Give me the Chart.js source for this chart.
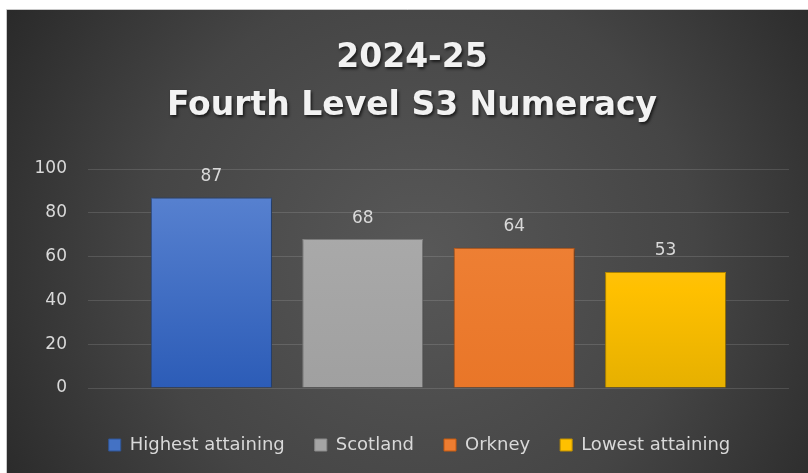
<!DOCTYPE html>
<html>
<head>
<meta charset="utf-8">
<script src="https://cdn.jsdelivr.net/npm/chart.js@4/dist/chart.umd.min.js"></script>
<style>
  html, body { margin: 0; padding: 0; background: #ffffff; }
  #wrap { position: relative; width: 808px; height: 473px; }
</style>
</head>
<body>
<div id="wrap"><canvas id="c" width="808" height="473"></canvas></div>
<script>
const titleLines = ['2024-25', 'Fourth Level S3 Numeracy'];
const categories = [''];
const seriesNames = ['Highest attaining', 'Scotland', 'Orkney', 'Lowest attaining'];
const seriesValues = [87, 68, 64, 53];
const yTicks = [0, 20, 40, 60, 80, 100];

const seriesColors = [
  { top: '#5d86d3', bottom: '#2c5cb7', border: '#2f5597', legend: '#4472c4' },
  { top: '#adadad', bottom: '#a0a0a0', border: '#8a8a8a', legend: '#a5a5a5' },
  { top: '#f0843a', bottom: '#e97628', border: '#c55a11', legend: '#ed7d31' },
  { top: '#ffc843', bottom: '#e6b000', border: '#bf9000', legend: '#ffc000' }
];

function barGradient(ctx, i) {
  const area = ctx.chart.chartArea;
  if (!area) return seriesColors[i].legend;
  const g = ctx.chart.ctx.createLinearGradient(0, area.top, 0, area.bottom);
  const c = seriesColors[i];
  if (i === 3) {
    g.addColorStop(0, c.top);
    g.addColorStop(0.55, '#ffc000');
    g.addColorStop(1, c.bottom);
  } else {
    g.addColorStop(0, c.top);
    g.addColorStop(1, c.bottom);
  }
  return g;
}

const bgPlugin = {
  id: 'bg',
  beforeDraw(chart) {
    const ctx = chart.ctx;
    ctx.save();
    ctx.fillStyle = '#ffffff';
    ctx.fillRect(0, 0, chart.width, chart.height);
    const g = ctx.createRadialGradient(420, 255, 0, 420, 255, 500);
    g.addColorStop(0, '#585858');
    g.addColorStop(0.55, '#454545');
    g.addColorStop(1, '#272727');
    ctx.fillStyle = g;
    ctx.fillRect(7, 10, chart.width - 7, chart.height - 10);
    ctx.strokeStyle = '#c8c8c8';
    ctx.lineWidth = 1;
    ctx.beginPath();
    ctx.moveTo(6.5, chart.height);
    ctx.lineTo(6.5, 9.5);
    ctx.lineTo(chart.width, 9.5);
    ctx.stroke();
    ctx.restore();
  }
};

const legendShiftPlugin = {
  id: 'legendShift',
  afterLayout(chart) {
    if (chart.legend) {
      chart.legend.left = 50;
    }
  }
};

const titlePlugin = {
  id: 'shadowTitle',
  afterDraw(chart) {
    const ctx = chart.ctx;
    ctx.save();
    ctx.font = 'bold 33px "DejaVu Sans"';
    ctx.textAlign = 'center';
    ctx.textBaseline = 'alphabetic';
    ctx.fillStyle = '#f2f2f2';
    ctx.shadowColor = 'rgba(0,0,0,0.65)';
    ctx.shadowBlur = 3;
    ctx.shadowOffsetX = 1.5;
    ctx.shadowOffsetY = 2;
    ctx.fillText(titleLines[0], 412, 67);
    ctx.fillText(titleLines[1], 412, 115);
    ctx.restore();
  }
};

const barShadowPlugin = {
  id: 'barShadow',
  beforeDatasetDraw(chart) {
    const ctx = chart.ctx;
    ctx.save();
    ctx.shadowColor = 'rgba(0,0,0,0.45)';
    ctx.shadowBlur = 4;
    ctx.shadowOffsetX = 1;
    ctx.shadowOffsetY = 1;
  },
  afterDatasetDraw(chart) {
    chart.ctx.restore();
  }
};

const valueLabelPlugin = {
  id: 'valueLabels',
  afterDatasetsDraw(chart) {
    const ctx = chart.ctx;
    ctx.save();
    ctx.font = '17px "DejaVu Sans"';
    ctx.fillStyle = '#d9d9d9';
    ctx.textAlign = 'center';
    ctx.textBaseline = 'middle';
    chart.data.datasets.forEach((ds, i) => {
      const meta = chart.getDatasetMeta(i);
      meta.data.forEach((bar, j) => {
        ctx.fillText(String(ds.data[j]), bar.x, bar.y - 21);
      });
    });
    ctx.restore();
  }
};

const datasets = seriesNames.map((name, i) => ({
  label: name,
  data: [seriesValues[i]],
  backgroundColor: (ctx) => barGradient(ctx, i),
  borderColor: seriesColors[i].border,
  borderWidth: 1,
  categoryPercentage: 0.864,
  barPercentage: 0.8
}));

new Chart(document.getElementById('c'), {
  type: 'bar',
  data: { labels: categories, datasets },
  options: {
    responsive: false,
    animation: false,
    devicePixelRatio: 1,
    layout: { padding: { top: 169, left: 30, right: 19, bottom: 9 } },
    plugins: {
      title: { display: false },
      tooltip: { enabled: false },
      legend: {
        position: 'bottom',
        labels: {
          boxWidth: 12,
          boxHeight: 12,
          padding: 30,
          color: '#d9d9d9',
          font: { family: '"DejaVu Sans"', size: 18 },
          generateLabels(chart) {
            return chart.data.datasets.map((ds, i) => ({
              text: ds.label,
              fillStyle: seriesColors[i].legend,
              strokeStyle: seriesColors[i].border,
              lineWidth: 1,
              fontColor: '#d9d9d9',
              hidden: false,
              datasetIndex: i
            }));
          }
        }
      }
    },
    scales: {
      x: {
        display: true,
        grid: { display: false },
        border: { display: false },
        ticks: { display: false },
        afterFit(s) { s.height = 18; }
      },
      y: {
        min: 0,
        max: 100,
        afterFit(s) { s.width = 58; },
        afterBuildTicks(s) { s.ticks = yTicks.map(v => ({ value: v })); },
        border: { display: false },
        grid: { color: 'rgba(255,255,255,0.13)', lineWidth: 1, drawTicks: false },
        ticks: {
          padding: 21,
          color: '#d9d9d9',
          font: { family: '"DejaVu Sans"', size: 17 }
        }
      }
    }
  },
  plugins: [bgPlugin, legendShiftPlugin, barShadowPlugin, valueLabelPlugin, titlePlugin]
});
</script>
</body>
</html>
